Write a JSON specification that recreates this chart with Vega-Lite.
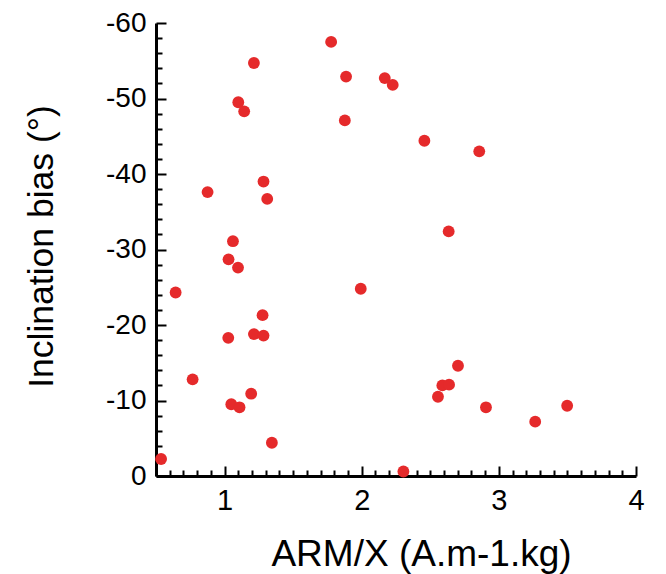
{
  "$schema": "https://vega.github.io/schema/vega-lite/v6.json",
  "autosize": "none",
  "width": 480,
  "height": 453,
  "padding": {"left": 156, "top": 23, "right": 30, "bottom": 98},
  "background": "white",
  "config": {"view": {"stroke": null}, "font": "Liberation Sans"},
  "data": {"values": [
    {"x": 0.537, "y": -2.25}, {"x": 0.643, "y": -24.3}, {"x": 0.767, "y": -12.8}, {"x": 0.876, "y": -37.6},
    {"x": 1.027, "y": -18.3}, {"x": 1.029, "y": -28.7}, {"x": 1.061, "y": -31.1}, {"x": 1.049, "y": -9.5},
    {"x": 1.109, "y": -9.1}, {"x": 1.100, "y": -49.5}, {"x": 1.098, "y": -27.6}, {"x": 1.143, "y": -48.3},
    {"x": 1.194, "y": -10.9}, {"x": 1.214, "y": -54.7}, {"x": 1.214, "y": -18.8}, {"x": 1.277, "y": -21.3},
    {"x": 1.284, "y": -18.6}, {"x": 1.284, "y": -39.0}, {"x": 1.311, "y": -36.7}, {"x": 1.345, "y": -4.4},
    {"x": 1.777, "y": -57.5}, {"x": 1.886, "y": -52.9}, {"x": 1.877, "y": -47.1}, {"x": 1.993, "y": -24.8},
    {"x": 2.168, "y": -52.7}, {"x": 2.226, "y": -51.8}, {"x": 2.304, "y": -0.6}, {"x": 2.457, "y": -44.4},
    {"x": 2.556, "y": -10.5}, {"x": 2.588, "y": -12.0}, {"x": 2.637, "y": -12.1}, {"x": 2.634, "y": -32.4},
    {"x": 2.702, "y": -14.6}, {"x": 2.857, "y": -43.0}, {"x": 2.906, "y": -9.1}, {"x": 3.265, "y": -7.2},
    {"x": 3.498, "y": -9.3}
  ]},
  "mark": {"type": "circle", "size": 140, "opacity": 1, "color": "#e52a2b", "clip": false},
  "encoding": {
    "x": {
      "field": "x", "type": "quantitative",
      "scale": {"domain": [0.5, 4], "nice": false, "zero": false},
      "axis": {
        "title": "ARM/X (A.m-1.kg)",
        "values": [0.5,0.6,0.7,0.8,0.9,1,1.1,1.2,1.3,1.4,1.5,1.6,1.7,1.8,1.9,2,2.1,2.2,2.3,2.4,2.5,2.6,2.7,2.8,2.9,3,3.1,3.2,3.3,3.4,3.5,3.6,3.7,3.8,3.9,4],
        "labelExpr": "abs(datum.value - round(datum.value)) < 0.01 ? '' + round(datum.value) : ''",
        "labelOverlap": false,
        "labelFlush": false,
        "labelFontSize": 29,
        "labelColor": "black",
        "labelPadding": 20,
        "tickSize": {"condition": {"test": "abs(datum.value - round(datum.value)) < 0.01", "value": -10}, "value": -6},
        "tickWidth": 2,
        "tickColor": "black",
        "domainColor": "black",
        "domainWidth": 3,
        "grid": false,
        "titleFontSize": 37,
        "titleFontWeight": "normal",
        "titleColor": "black",
        "titleX": 265,
        "titleY": 89,
        "titleAlign": "center",
        "titleBaseline": "alphabetic",
        "zindex": 0
      }
    },
    "y": {
      "field": "y", "type": "quantitative",
      "scale": {"domain": [-60, 0], "reverse": true, "nice": false, "zero": false},
      "axis": {
        "title": "Inclination bias (°)",
        "values": [-60,-58,-56,-54,-52,-50,-48,-46,-44,-42,-40,-38,-36,-34,-32,-30,-28,-26,-24,-22,-20,-18,-16,-14,-12,-10,-8,-6,-4,-2,0],
        "labelExpr": "datum.value % 10 === 0 ? '' + datum.value : ''",
        "labelOverlap": false,
        "labelFlush": false,
        "labelFontSize": 28,
        "labelColor": "black",
        "labelPadding": 20,
        "tickSize": {"condition": {"test": "datum.value % 10 === 0", "value": -10}, "value": -6},
        "tickWidth": 2,
        "tickColor": "black",
        "domainColor": "black",
        "domainWidth": 3,
        "grid": false,
        "titleFontSize": 35.5,
        "titleFontWeight": "normal",
        "titleColor": "black",
        "titleAngle": 270,
        "titleX": -104,
        "titleY": 223,
        "titleAlign": "center",
        "titleBaseline": "alphabetic",
        "zindex": 0
      }
    }
  }
}
